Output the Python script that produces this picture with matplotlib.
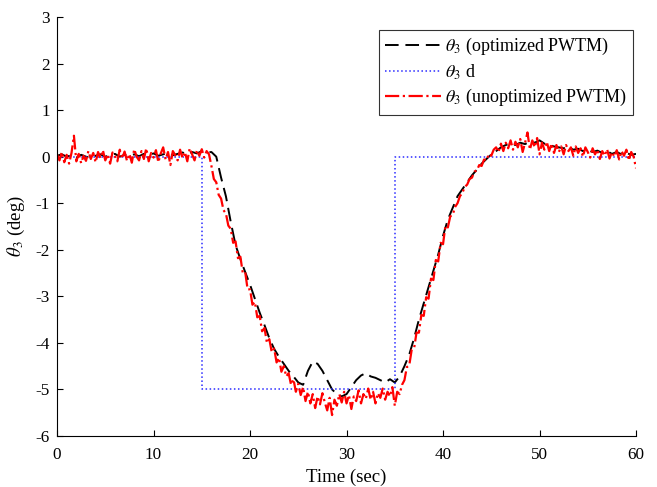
import numpy as np
import matplotlib
matplotlib.use("Agg")
import matplotlib.pyplot as plt

plt.rcParams["font.family"] = ["Liberation Serif", "DejaVu Serif"]
plt.rcParams["mathtext.fontset"] = "stix"
plt.rcParams["axes.unicode_minus"] = False

# ---- data ----
t_opt = np.arange(0, 60.01, 0.5)
theta_opt = [
    0.02, 0.05, 0.00, 0.03, -0.02, 0.04, 0.00, -0.03, 0.02, 0.05,
    0.00, 0.03, 0.06, 0.00, 0.04, 0.02, 0.05, 0.01, 0.06, 0.03,
    0.07, 0.02, 0.05, 0.08, 0.03, 0.06, 0.09, 0.05, 0.10, 0.07,
    0.12, 0.09, 0.10, 0.00,
    -0.45, -0.85, -1.40, -1.90, -2.20, -2.48, -2.75, -3.05, -3.35, -3.62,
    -3.90, -4.13, -4.30, -4.45, -4.60, -4.72, -4.85, -4.90, -4.60, -4.40,
    -4.45, -4.60, -4.80, -5.00, -5.10, -5.15, -5.10, -4.95, -4.80, -4.70,
    -4.65, -4.72, -4.75, -4.80, -4.85, -4.78, -4.85, -4.72, -4.50, -4.25,
    -3.90, -3.50, -3.15, -2.80, -2.45, -2.10, -1.70, -1.35, -1.10, -0.85,
    -0.70, -0.55, -0.40, -0.28, -0.15, -0.05, 0.05, 0.12, 0.20, 0.25,
    0.28, 0.25, 0.30, 0.27, 0.32, 0.30, 0.35, 0.28, 0.25, 0.22,
    0.20, 0.18, 0.20, 0.15, 0.17, 0.12, 0.15, 0.10, 0.13, 0.08,
    0.12, 0.06, 0.10, 0.05, 0.08, 0.04, 0.06,
]

t_ref = [0, 15, 15, 35, 35, 60]
theta_ref = [0, 0, -5, -5, 0, 0]

t_unopt = np.arange(0, 60.01, 0.25)
theta_unopt = [
    0.05, -0.08, 0.10, -0.12, 0.04, -0.15, 0.08, 0.45, -0.10, 0.06,
    -0.14, 0.02, -0.09, 0.12, -0.05, 0.08, -0.12, 0.10, -0.03, 0.14,
    -0.08, 0.05, -0.15, 0.09, 0.02, -0.10, 0.15, -0.04, 0.11, -0.09,
    0.06, -0.13, 0.16, 0.00, -0.08, 0.12, -0.05, 0.18, -0.10, 0.08,
    -0.02, 0.14, -0.12, 0.07, 0.20, -0.06, 0.10, -0.18, 0.12, 0.03,
    -0.08, 0.15, -0.03, 0.10, -0.10, 0.18, 0.05, -0.08, 0.14, 0.02,
    0.16, -0.02, 0.12, 0.05,
    -0.20, -0.48, -0.55, -0.82, -0.90, -1.15, -1.22, -1.48, -1.55, -1.85,
    -1.82, -2.18, -2.15, -2.50, -2.48, -2.85, -2.85, -3.18, -3.12, -3.45,
    -3.42, -3.75, -3.68, -4.00, -3.92, -4.20, -4.12, -4.42, -4.32, -4.62,
    -4.50, -4.72, -4.65, -4.90, -4.78, -5.05, -4.88, -5.12, -4.95, -5.25,
    -5.05, -5.30, -5.10, -5.40, -5.15, -5.32, -5.08, -5.28, -5.45, -5.18,
    -5.55, -5.22, -5.35, -5.10, -5.28, -5.05, -5.30, -5.12, -5.42, -5.15,
    -5.25, -5.02, -5.30, -5.10, -5.20, -4.98, -5.22, -5.05, -5.30, -5.08,
    -5.18, -4.98, -5.22, -5.05, -5.15, -4.95, -5.35, -5.05, -5.10, -4.90,
    -4.80, -4.52, -4.48, -4.15, -4.12, -3.78, -3.78, -3.40, -3.42, -3.02,
    -3.05, -2.62, -2.65, -2.22, -2.25, -1.85, -1.88, -1.48, -1.52, -1.28,
    -1.25, -1.08, -1.00, -0.85, -0.78, -0.65, -0.60, -0.48, -0.45, -0.32,
    -0.30, -0.18, -0.20, -0.06, -0.08, 0.06, 0.02, 0.15, 0.20, 0.10,
    0.28, 0.12, 0.30, 0.18, 0.35, 0.15, 0.32, 0.20, 0.38, 0.10,
    0.30, 0.52, 0.15, 0.35, 0.20, 0.40, 0.05, 0.30, 0.15, 0.32,
    0.12, 0.28, 0.08, 0.25, 0.10, 0.22, 0.05, 0.25, 0.12, 0.20,
    0.02, 0.22, 0.08, 0.18, 0.00, 0.20, 0.10, -0.02, 0.18, 0.05,
    0.15, -0.05, 0.12, 0.02, 0.16, -0.04, 0.10, 0.00, 0.14, -0.06,
    0.12, 0.02, 0.15, -0.08, 0.10, 0.00, -0.25,
]

fig = plt.figure(figsize=(6.57, 4.87), dpi=100)
ax = fig.add_axes([0.0868, 0.1047, 0.8813, 0.8604])

ax.plot(t_opt, theta_opt, color="black", lw=1.4, dashes=(7, 3.5),
        label=r"$\theta_3$ (optimized PWTM)")
ax.plot(t_ref, theta_ref, color="#2b2bff", lw=1.1, ls=":",
        label=r"$\theta_3$ d")
ax.plot(t_unopt, theta_unopt, color="red", lw=1.6, ls="-.",
        label=r"$\theta_3$ (unoptimized PWTM)")

ax.set_xlim(0, 60)
ax.set_ylim(-6, 3)
ax.set_xticks(range(0, 61, 10))
ax.set_yticks(range(-6, 4))
ax.tick_params(direction="in", length=4, labelsize=12.3, top=False, right=False)
ax.tick_params(axis="x", pad=8)
ax.tick_params(axis="y", pad=5)
ax.spines["top"].set_visible(False)
ax.spines["right"].set_visible(False)
ax.set_xlabel("Time (sec)", fontsize=13.5, labelpad=4)
ax.set_ylabel(r"$\theta_3$ (deg)", fontsize=13.5, labelpad=6)

leg = ax.legend(loc="upper right", bbox_to_anchor=(0.995, 0.97), fontsize=13,
                frameon=True, fancybox=False, edgecolor="black",
                handlelength=3.1, borderaxespad=0, labelspacing=0.3,
                handletextpad=0.2, borderpad=0.35)
leg.get_frame().set_linewidth(0.8)

fig.savefig("out.png", dpi=100, facecolor="white")
